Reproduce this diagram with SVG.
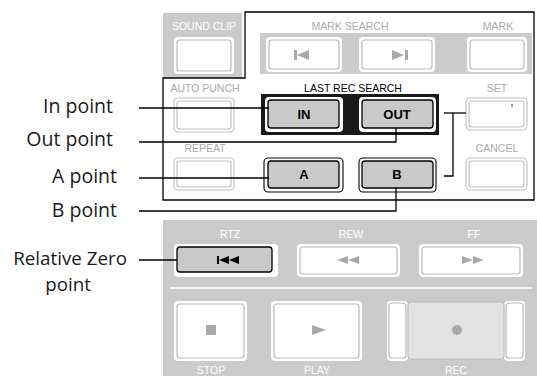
<svg xmlns="http://www.w3.org/2000/svg" width="537" height="376" viewBox="0 0 537 376">
<style>
.lbl{font-family:"Open Sans","Noto Sans",sans-serif;font-size:19.5px;fill:#1a1a1a;text-anchor:end}
.lbl2{font-size:18.8px}
.pl{font-family:"Liberation Sans",Arial,sans-serif;font-size:10.5px;text-anchor:middle}
.g{fill:#a9a9a9}
.w{fill:#ffffff}
.k{fill:#000000}
.bt{font-family:"Liberation Sans",Arial,sans-serif;font-size:13px;font-weight:bold;text-anchor:middle;fill:#000}
.outer{fill:#fff;stroke:#c2c2c2;stroke-width:1.2}
.inner{fill:none;stroke:#c2c2c2;stroke-width:1.2}
.wo{fill:#fff}
.gin{fill:none;stroke:#b9b9b9;stroke-width:1.2}
.press{fill:#c9c9c9;stroke:#000;stroke-width:1.3}
.ico{fill:#a9a9a9}
.conn{fill:none;stroke:#000;stroke-width:1.3}
</style>
<rect width="537" height="376" fill="#fff"/>

<!-- panels -->
<g id="panels">
  <rect x="163" y="13" width="79" height="65" fill="#cbcbcb"/>
  <polygon points="245,12 534,12 534,200 163,200 163,78 245,78" fill="none" stroke="#000" stroke-width="1.3"/>
  <rect x="260" y="33" width="272" height="41" fill="#cbcbcb"/>
  <rect x="261" y="94" width="178" height="41" fill="#1a1a1a"/>
  <rect x="163" y="220" width="374" height="156" fill="#cbcbcb"/>
  <line x1="170" y1="288" x2="532" y2="288" stroke="#fff" stroke-width="1.5"/>
</g>

<!-- panel labels -->
<g id="panel-labels">
  <text class="pl w" x="204" y="30">SOUND CLIP</text>
  <text class="pl g" x="350" y="30">MARK SEARCH</text>
  <text class="pl g" x="498" y="30">MARK</text>
  <text class="pl g" x="205" y="92">AUTO PUNCH</text>
  <text class="pl k" x="353" y="92">LAST REC SEARCH</text>
  <text class="pl g" x="497" y="92">SET</text>
  <text class="pl g" x="205" y="152">REPEAT</text>
  <text class="pl g" x="497" y="152">CANCEL</text>
  <text class="pl w" x="230" y="238">RTZ</text>
  <text class="pl w" x="351" y="238">REW</text>
  <text class="pl w" x="474" y="238">FF</text>
  <text class="pl w" x="211" y="374">STOP</text>
  <text class="pl w" x="317" y="374">PLAY</text>
  <text class="pl w" x="456" y="374">REC</text>
</g>

<g id="btn-soundclip">
  <rect class="wo" x="174" y="37" width="60" height="37" rx="4"/>
  <rect class="gin" x="177" y="40" width="54" height="31" rx="3"/>
</g>
<g id="btn-mark-prev">
  <rect class="wo" x="266" y="37" width="76" height="35" rx="4"/>
  <rect class="gin" x="269" y="40" width="70" height="29" rx="3"/>
  <rect class="ico" x="294" y="50" width="3" height="10"/>
  <polygon class="ico" points="297,55 309,50 309,60"/>
</g>
<g id="btn-mark-next">
  <rect class="wo" x="359" y="37" width="76" height="35" rx="4"/>
  <rect class="gin" x="362" y="40" width="70" height="29" rx="3"/>
  <polygon class="ico" points="392,50 404,55 392,60"/>
  <rect class="ico" x="405" y="50" width="3" height="10"/>
</g>
<g id="btn-mark">
  <rect class="wo" x="467" y="37" width="60" height="35" rx="4"/>
  <rect class="gin" x="470" y="40" width="54" height="29" rx="3"/>
</g>
<g id="btn-autopunch">
  <rect class="outer" x="174" y="98" width="60" height="34" rx="4"/>
  <rect class="inner" x="177" y="101" width="54" height="28" rx="3"/>
</g>
<g id="btn-in">
  <rect class="wo" x="265" y="97" width="78" height="35" rx="4"/>
  <rect class="press" x="268" y="100" width="71" height="28" rx="3"/>
  <text class="bt" x="304" y="119">IN</text>
</g>
<g id="btn-out">
  <rect class="wo" x="359" y="97" width="77" height="35" rx="4"/>
  <rect class="press" x="362" y="100" width="71" height="28" rx="3"/>
  <text class="bt" x="397" y="119">OUT</text>
</g>
<g id="btn-set">
  <rect class="outer" x="466" y="98" width="61" height="32" rx="4"/>
  <rect class="inner" x="469" y="101" width="55" height="26" rx="3"/>
  <line x1="512" y1="104" x2="512" y2="107" stroke="#444" stroke-width="1"/>
</g>
<g id="btn-repeat">
  <rect class="outer" x="174" y="158" width="60" height="32" rx="4"/>
  <rect class="inner" x="177" y="161" width="54" height="26" rx="3"/>
</g>
<g id="btn-a">
  <rect x="264" y="158" width="79" height="34" rx="4" fill="#fff" stroke="#000" stroke-width="1.1"/>
  <rect class="press" x="268" y="161" width="71" height="27" rx="3"/>
  <text class="bt" x="304" y="179">A</text>
</g>
<g id="btn-b">
  <rect x="359" y="158" width="77" height="34" rx="4" fill="#fff" stroke="#000" stroke-width="1.1"/>
  <rect class="press" x="362" y="161" width="71" height="27" rx="3"/>
  <text class="bt" x="397" y="179">B</text>
</g>
<g id="btn-cancel">
  <rect class="outer" x="466" y="158" width="61" height="32" rx="4"/>
  <rect class="inner" x="469" y="161" width="55" height="26" rx="3"/>
</g>
<g id="btn-rtz">
  <rect class="wo" x="174" y="244" width="104" height="33" rx="4"/>
  <rect class="press" x="177" y="247" width="95" height="25" rx="3"/>
  <rect x="217" y="256" width="2" height="8" fill="#000"/>
  <polygon points="219,260 229,256 229,264" fill="#000"/>
  <polygon points="229,260 239,256 239,264" fill="#000"/>
</g>
<g id="btn-rew">
  <rect class="wo" x="297" y="244" width="103" height="33" rx="4"/>
  <rect class="gin" x="300" y="247" width="97" height="27" rx="3"/>
  <polygon class="ico" points="337,260 348,256 348,264"/>
  <polygon class="ico" points="348,260 359,256 359,264"/>
</g>
<g id="btn-ff">
  <rect class="wo" x="419" y="244" width="104" height="33" rx="4"/>
  <rect class="gin" x="422" y="247" width="98" height="27" rx="3"/>
  <polygon class="ico" points="462,256 473,260 462,264"/>
  <polygon class="ico" points="473,256 484,260 473,264"/>
</g>
<g id="btn-stop">
  <rect class="wo" x="174" y="301" width="73" height="60" rx="4"/>
  <rect class="gin" x="177" y="304" width="67" height="54" rx="3"/>
  <rect class="ico" x="206" y="325" width="10" height="10"/>
</g>
<g id="btn-play">
  <rect class="wo" x="271" y="301" width="91" height="60" rx="4"/>
  <rect class="gin" x="274" y="304" width="85" height="54" rx="3"/>
  <polygon class="ico" points="312,325 326,330 312,335"/>
</g>
<g id="btn-rec">
  <rect class="wo" x="387" y="301" width="21" height="60" rx="4"/>
  <rect class="gin" x="389" y="303" width="17" height="55" rx="3"/>
  <rect class="wo" x="504" y="301" width="21" height="60" rx="4"/>
  <rect class="gin" x="506" y="303" width="17" height="55" rx="3"/>
  <rect x="408" y="302" width="96" height="57" rx="3" fill="#e3e3e3" stroke="#bdbdbd" stroke-width="1.2"/>
  <circle cx="457" cy="330" r="5" fill="#a9a9a9"/>
</g>

<!-- callout labels -->
<g id="label-in"><text class="lbl" x="113" y="113">In point</text></g>
<g id="label-out"><text class="lbl" x="113" y="146">Out point</text></g>
<g id="label-a"><text class="lbl" x="117" y="183">A point</text></g>
<g id="label-b"><text class="lbl" x="117" y="217">B point</text></g>
<g id="label-rtz"><text class="lbl lbl2" x="127" y="265">Relative Zero</text><text class="lbl lbl2" x="91" y="291">point</text></g>

<g id="connectors">
  <polyline class="conn" points="139,108 269,108"/>
  <polyline class="conn" points="139,142 396,142 396,128"/>
  <polyline class="conn" points="139,178 269,178"/>
  <polyline class="conn" points="139,211 396,211 396,188"/>
  <polyline class="conn" points="444,113 466,113"/>
  <polyline class="conn" points="453,113 453,176 444,176"/>
  <polyline class="conn" points="139,260 177,260"/>
</g>
</svg>
